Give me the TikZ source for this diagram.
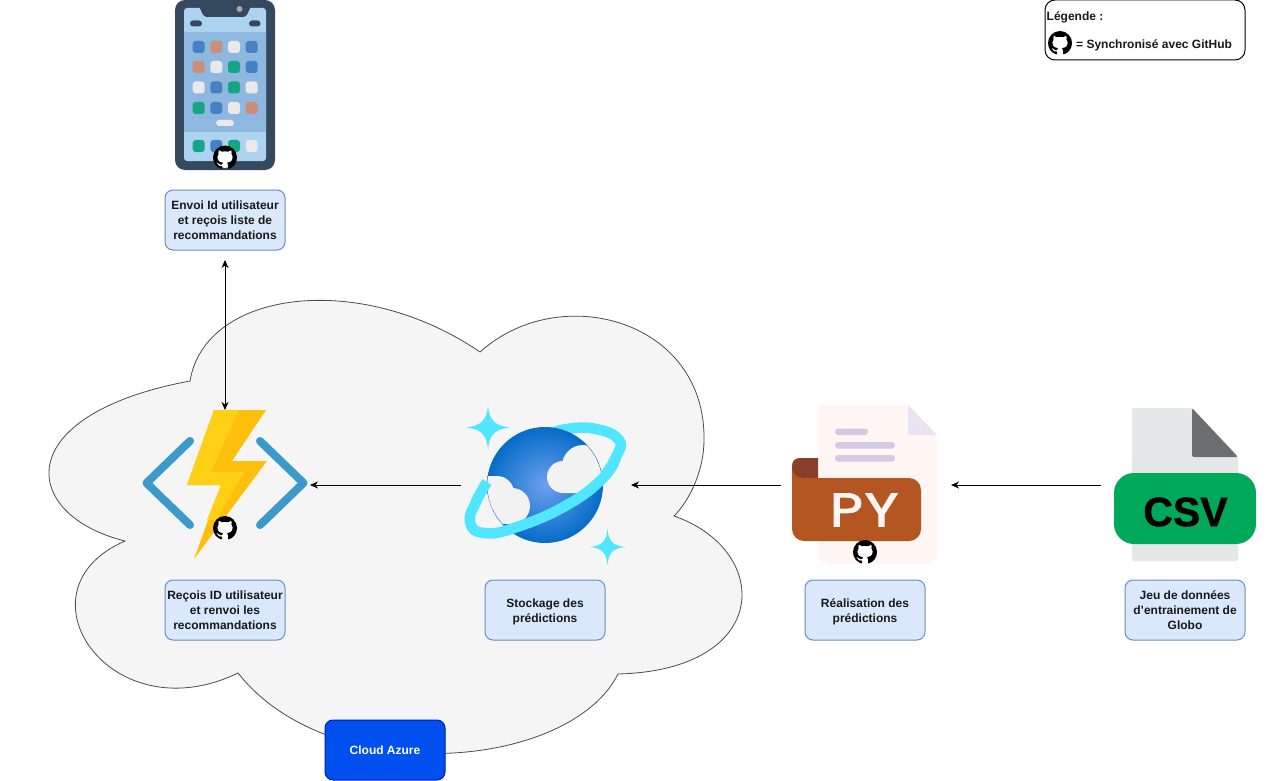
\documentclass[tikz,border=0pt]{standalone}
\usepackage{fontspec}
\setmainfont{Liberation Sans}
\newfontfamily\popfont[LetterSpace=4,FakeBold=2.5,FakeStretch=1.22]{Poppins}
\newfontfamily\csvfont[FakeBold=1]{Liberation Sans Bold}
\usetikzlibrary{arrows.meta,svg.path}
\definecolor{boxfill}{HTML}{DAE8FC}
\definecolor{boxline}{HTML}{6C8EBF}
\definecolor{cloudfill}{HTML}{F5F5F5}
\definecolor{phonedark}{HTML}{35495E}
\definecolor{applblue}{HTML}{4482C4}
\definecolor{applsalmon}{HTML}{CB8D7C}
\definecolor{applwhite}{HTML}{E9E9E9}
\definecolor{applgreen}{HTML}{14A585}
\definecolor{ringcyan}{HTML}{50E6FF}
\definecolor{cloudwhite}{HTML}{F2F2F2}
\definecolor{azureline}{HTML}{001DBC}
\definecolor{azurefill}{HTML}{0050EF}
\definecolor{bracketblue}{HTML}{3B9AC9}
\definecolor{lilac}{HTML}{D3CBE3}
\tikzset{
  textbox/.style={draw=boxline,fill=boxfill,line width=1pt,rounded corners=8pt,minimum width=120pt,minimum height=60pt,align=center,inner sep=0pt,font=\fontsize{12}{15}\selectfont\bfseries,text=black!90},
  link/.style={draw=black,line width=1pt,-{Stealth[length=8pt,width=7pt]}},
  app/.style={rounded corners=3pt,fill=#1},
  ringband/.style={ringcyan,line width=10.5pt,line join=round},
  ghmark/.pic={
    \fill[white] (0,0) circle[radius=10.5];
    \begin{scope}[xscale=1.5,yscale=-1.5,shift={(-8pt,-8pt)}]
    \fill[black] svg {M8 0 C3.58 0 0 3.58 0 8 c0 3.54 2.29 6.53 5.47 7.59 0.4 0.07 0.55 -0.17 0.55 -0.38 0 -0.19 -0.01 -0.82 -0.01 -1.49 -2.01 0.37 -2.53 -0.49 -2.69 -0.94 -0.09 -0.23 -0.48 -0.94 -0.82 -1.13 -0.28 -0.15 -0.68 -0.52 -0.01 -0.53 0.63 -0.01 1.08 0.58 1.23 0.82 0.72 1.21 1.87 0.87 2.33 0.66 0.07 -0.52 0.28 -0.87 0.51 -1.07 -1.78 -0.2 -3.64 -0.89 -3.64 -3.95 0 -0.87 0.31 -1.59 0.82 -2.15 -0.08 -0.2 -0.36 -1.02 0.08 -2.12 0 0 0.67 -0.21 2.2 0.82 0.64 -0.18 1.32 -0.27 2 -0.27 0.68 0 1.36 0.09 2 0.27 1.53 -1.04 2.2 -0.82 2.2 -0.82 0.44 1.1 0.16 1.92 0.08 2.12 0.51 0.56 0.82 1.27 0.82 2.15 0 3.07 -1.87 3.75 -3.65 3.95 0.29 0.25 0.54 0.73 0.54 1.48 0 1.07 -0.01 1.93 -0.01 2.2 0 0.21 0.15 0.46 0.55 0.38 C13.71 14.53 16 11.54 16 8 c0 -4.42 -3.58 -8 -8 -8 z};
    \end{scope}
  }
}
\begin{document}
\begin{tikzpicture}[x=1pt,y=-1pt]
\useasboundingbox (0,0) rectangle (1271,781);
\fill[white] (0,0) rectangle (1271,781);
% cloud
\draw[draw=black!70,fill=cloudfill,line width=0.8pt]
  (125,541) .. controls (20,515) and (8,415) .. (190,381)
  .. controls (205,290) and (360,270) .. (480,352)
  .. controls (560,280) and (706,320) .. (704,440)
  .. controls (704,470) and (690,500) .. (674,516)
  .. controls (772,550) and (773,670) .. (618,674)
  .. controls (570,770) and (330,790) .. (238,673)
  .. controls (110,735) and (12,590) .. (125,541) -- cycle;
% phone
\fill[phonedark, rounded corners=10pt] (175,0) rectangle (275,170);
\fill[color={rgb,255:red,174;green,211;blue,241}, rounded corners=3pt] (184,8) rectangle (266,161);
\fill[color={rgb,255:red,143;green,184;blue,225}] (184,32) rectangle (266,132);
\fill[phonedark, rounded corners=3pt] (198,4) -- (204,17) -- (246,17) -- (252,4) -- cycle;
\fill[black!35] (239.5,9) circle[radius=3];
\fill[phonedark, rounded corners=3pt] (190,20.5) rectangle (202,26.5);
\fill[phonedark, rounded corners=3pt] (249,20.5) rectangle (260.5,26.5);
\foreach \yy/\ca/\cb/\cc/\cd in {47/applblue/applsalmon/applwhite/applblue,67/applsalmon/applwhite/applgreen/applblue,87.5/applwhite/applblue/applgreen/applwhite,108/applgreen/applblue/applwhite/applsalmon,146/applgreen/applblue/applgreen/applwhite}{
  \fill[app=\ca] (192.7,\yy-6) rectangle (204.7,\yy+6);
  \fill[app=\cb] (210.3,\yy-6) rectangle (222.3,\yy+6);
  \fill[app=\cc] (228,\yy-6) rectangle (240,\yy+6);
  \fill[app=\cd] (245.7,\yy-6) rectangle (257.7,\yy+6);
}
\fill[applwhite, rounded corners=3pt] (216,120) rectangle (234,126);
\pic at (225,157.5) {ghmark};
% function
\draw[bracketblue,line width=8pt,line cap=round,line join=round] (190,441) -- (146.5,483) -- (190,525);
\draw[bracketblue,line width=8pt,line cap=round,line join=round] (260,441) -- (303.5,483) -- (260,525);
\fill[color={rgb,255:red,255;green,191;blue,13}] (239,410) -- (266,410) -- (232,461) -- (267,461) -- (194,559) -- (221,485) -- (187,485) -- (214,410) -- cycle;
\fill[color={rgb,255:red,255;green,208;blue,20}] (214,410) -- (239,410) -- (211,472) -- (244,472) -- (216,520) -- (207,520) -- (221,485) -- (187,485) -- cycle;
\pic at (225,528) {ghmark};
% cosmos ring behind
\draw[ringband] plot[smooth,tension=0.8] coordinates {(603,478) (616,457) (619,440) (596,429) (566.7,429) (545,436)};
% globe
\shade[inner color={rgb,255:red,108;green,160;blue,238},outer color={rgb,255:red,5;green,108;blue,200}] (545,485) circle[radius=58];
\begin{scope}
\clip (545,485) circle[radius=57.5];
\fill[cloudwhite] (563,477) circle[radius=16];
\fill[cloudwhite] (583,466) circle[radius=21];
\fill[cloudwhite] (563,472) -- (606,472) -- (585,493) -- (563,493) -- cycle;
\fill[cloudwhite] (497,493) circle[radius=17];
\fill[cloudwhite] (512,506) circle[radius=18];
\fill[cloudwhite] (480,476) rectangle (497,510);
\fill[cloudwhite] (480,506) rectangle (512,524);
\end{scope}
% ring in front
\draw[ringband] plot[smooth,tension=0.8] coordinates {(487,482) (476,502) (470,522) (484,533) (517,527) (567,505) (603,478) (616,457)};
\fill[ringcyan] (488,405) .. controls (489,420) and (495,426) .. (510,427.5) .. controls (495,429) and (489,435) .. (488,450) .. controls (487,435) and (481,429) .. (466,427.5) .. controls (481,426) and (487,420) .. (488,405) -- cycle;
\fill[ringcyan] (607.5,529) .. controls (608.5,541) and (613,546) .. (625.5,547) .. controls (613,548) and (608.5,553) .. (607.5,565) .. controls (606.5,553) and (602,548) .. (589.5,547) .. controls (602,546) and (606.5,541) .. (607.5,529) -- cycle;
% python file
\fill[color={rgb,255:red,255;green,245;blue,243}, rounded corners=11pt] (818,405) -- (818,564) -- (937,564) -- (937,435) [sharp corners] -- (908,405) -- cycle;
\fill[color={rgb,255:red,255;green,245;blue,243}] (830,405) rectangle (908,420);
\fill[color={rgb,255:red,232;green,228;blue,243}] (908,405) -- (937,435) -- (908,435) -- cycle;
\fill[lilac, rounded corners=3pt] (835,428.5) rectangle (868,435);
\fill[lilac, rounded corners=3pt] (835,442) rectangle (895,448.5);
\fill[lilac, rounded corners=3pt] (835,455) rectangle (895,461.5);
\fill[color={rgb,255:red,138;green,63;blue,44}] (792,480) -- (792,466) .. controls (792,461) and (795,458) .. (800,458) -- (818,458) -- (818,480) -- cycle;
\fill[color={rgb,255:red,179;green,86;blue,33}, rounded corners=12pt] (792,541) -- (921,541) -- (921,478) -- (792,478) -- cycle;
\fill[color={rgb,255:red,179;green,86;blue,33}] (792,467) .. controls (792,474) and (797,478) .. (804,478) -- (804,492) -- (792,492) -- cycle;
\node[text={rgb,255:red,255;green,245;blue,243},inner sep=0pt,font=\fontsize{47}{47}\selectfont\popfont] (pytext) at (864,510) {PY};
\pic at (865,552) {ghmark};
% csv file
\fill[color={rgb,255:red,230;green,231;blue,232}, rounded corners=2pt] (1132,408) -- (1132,561) -- (1238,561) -- (1238,456) -- (1192,408) -- cycle;
\fill[color={rgb,255:red,109;green,110;blue,113}, rounded corners=2pt] (1192,408) -- (1238,457) -- (1192,457) -- cycle;
\fill[color={rgb,255:red,0;green,168;blue,89}, rounded corners=20pt] (1114,473) rectangle (1256,544);
\node[inner sep=0pt,font=\fontsize{41}{41}\selectfont\csvfont] (csvtext) at (1185.5,512) {CSV};
% text boxes
\node[textbox] (bphone) at (225,220) {Envoi Id utilisateur\\et reçois liste de\\recommandations};
\node[textbox] (bfunc) at (225,610) {Reçois ID utilisateur\\et renvoi les\\recommandations};
\node[textbox] (bstore) at (545,610) {\rule{0pt}{13pt}Stockage des\\prédictions};
\node[textbox] (bpred) at (865,610) {\rule{0pt}{13pt}Réalisation des\\prédictions};
\node[textbox] (bdata) at (1185,610) {Jeu de données\\d’entrainement de\\Globo};
\node[textbox,draw=azureline,fill=azurefill,text=white] (bazure) at (385,750) {Cloud Azure};
\node[draw=black,line width=1pt,fill=white,rounded corners=10pt,minimum width=200pt,minimum height=60pt,inner sep=0pt] (legend) at (1145,30) {};
\node[anchor=west,inner sep=0pt,font=\fontsize{12}{15}\selectfont\bfseries,text=black!90] (legtitle) at (1046.5,17) {Légende :};
\pic at (1060,43) {ghmark};
\node[anchor=west,inner sep=0pt,font=\fontsize{12}{15}\selectfont\bfseries,text=black!90] (legtext) at (1076,45.5) {= Synchronisé avec GitHub};
% connectors
\coordinate (phonetop) at (225,260);
\coordinate (functop) at (225,410);
\coordinate (funcright) at (310,485);
\coordinate (storeleft) at (461,485);
\coordinate (storeright) at (631,485);
\coordinate (pyleft) at (781,485);
\coordinate (pyright) at (951,485);
\coordinate (csvleft) at (1101,485);
\draw[link,{Stealth[length=8pt,width=7pt]}-{Stealth[length=8pt,width=7pt]}] (phonetop) -- (functop);
\draw[link] (storeleft) -- (funcright);
\draw[link] (pyleft) -- (storeright);
\draw[link] (csvleft) -- (pyright);
\end{tikzpicture}
\end{document}
